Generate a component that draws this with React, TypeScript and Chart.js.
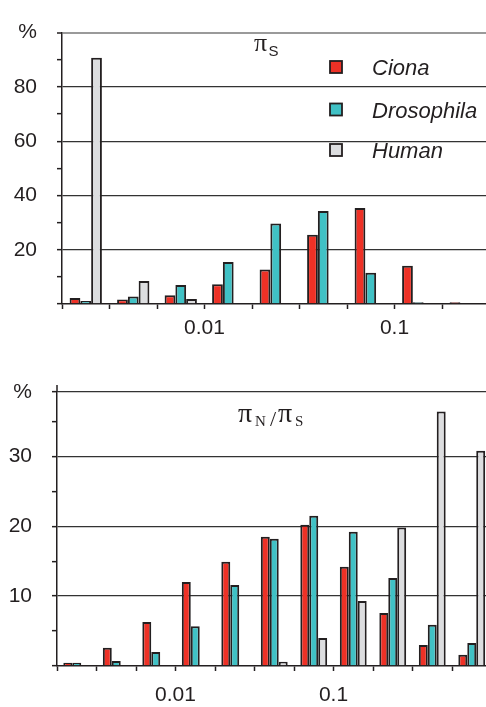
import React, { useEffect, useRef } from "react";
import { Chart, registerables } from "chart.js";

Chart.register(...registerables);

// ---------- shared ----------
const seriesNames = ["Ciona", "Drosophila", "Human"];
const seriesColors = ["#ee3126", "#40c1c5", "#dcdddf"];
const INK = "#231f20";
const SANS = "'Liberation Sans', Arial, Helvetica, sans-serif";
const SERIF = "'Liberation Serif', 'Times New Roman', serif";

// ---------- top panel: piS ----------
const piSBins = ["b1", "b2", "b3", "b4", "b5", "b6", "b7", "b8", "b9"];
const piSEdgeLabels = ["", "", "", "0.01", "", "", "", "0.1", ""];
const piSCiona = [2.2, 1.7, 3.2, 7.3, 12.7, 25.5, 35.4, 14.1, 0.6];
const piSDrosophila = [1.1, 2.8, 7.0, 15.5, 29.7, 34.3, 11.5, 0.6, null];
const piSHuman = [90.7, 8.5, 1.8, null, null, null, null, null, null];
const piSYMax = 100;
const piSYTicks = [0, 10, 20, 30, 40, 50, 60, 70, 80, 90, 100];
const piSYLabels = ["", "", "20", "", "40", "", "60", "", "80", "", "%"];
const piSGridDark = [20, 40, 60, 80];
const piSGridLight = [100];

// ---------- bottom panel: piN/piS ----------
const ratioBins = ["c1", "c2", "c3", "c4", "c5", "c6", "c7", "c8", "c9", "c10", "c11"];
const ratioEdgeLabels = ["", "", "", "0.01", "", "", "", "0.1", "", "", ""];
const ratioCiona = [0.45, 2.6, 6.3, 12.0, 14.9, 18.5, 20.2, 14.2, 7.6, 3.0, 1.6];
const ratioDrosophila = [0.45, 0.7, 2.0, 5.7, 11.6, 18.2, 21.5, 19.2, 12.6, 5.9, 3.3];
const ratioHuman = [null, null, null, null, null, 0.6, 4.0, 9.3, 19.8, 36.4, 30.8];
const ratioYMax = 39.2;
const ratioYTicks = [0, 5, 10, 15, 20, 25, 30, 35, 39.2];
const ratioYLabels = ["", "", "10", "", "20", "", "30", "", "%"];
const ratioGridDark = [10, 20, 30, 39.2];
const ratioGridLight: number[] = [];

type Area = { left: number; top: number; bottom: number; binWidth: number };

type PanelProps = {
  top: number;
  height: number;
  area: Area;
  bins: string[];
  edgeLabels: string[];
  values: (number | null)[][];
  yMax: number;
  yTicks: number[];
  yLabels: string[];
  gridDark: number[];
  gridLight: number[];
  xLabelPadding: number;
  axisExtendTop: number;
  extras: (ctx: CanvasRenderingContext2D) => void;
};

const CANVAS_W = 500;

function Panel(p: PanelProps) {
  const ref = useRef<HTMLCanvasElement>(null);
  useEffect(() => {
    const canvas = ref.current!;
    const areaRight = p.area.left + p.bins.length * p.area.binWidth;
    const chart = new Chart(canvas, {
      type: "bar",
      data: {
        labels: p.bins,
        datasets: seriesNames.map((name, i) => ({
          label: name,
          data: p.values[i],
          backgroundColor: seriesColors[i],
          borderColor: INK,
          borderWidth: 2,
          borderSkipped: "start",
          categoryPercentage: 0.68,
          barPercentage: 1,
        })),
      },
      options: {
        responsive: false,
        animation: false,
        layout: {
          padding: { top: p.area.top, right: CANVAS_W - areaRight, left: 0, bottom: 0 },
        },
        plugins: {
          legend: { display: false },
          tooltip: { enabled: false },
          title: { display: false },
        },
        scales: {
          x: {
            offset: true,
            grid: {
              display: true,
              offset: true,
              drawOnChartArea: false,
              drawTicks: true,
              tickLength: 5,
              tickColor: INK,
              tickWidth: 1.5,
            },
            border: { display: true, color: INK, width: 1.5 },
            ticks: {
              autoSkip: false,
              maxRotation: 0,
              minRotation: 0,
              labelOffset: -p.area.binWidth / 2,
              padding: p.xLabelPadding,
              color: INK,
              font: { family: SANS, size: 21 },
              callback: (_v: any, i: number) => p.edgeLabels[i],
            },
            afterFit: (s: any) => {
              s.height = p.height - p.area.bottom;
            },
          },
          y: {
            min: 0,
            max: p.yMax,
            afterBuildTicks: (s: any) => {
              s.ticks = p.yTicks.map((v) => ({ value: v }));
            },
            ticks: {
              autoSkip: false,
              padding: 20,
              color: INK,
              font: { family: SANS, size: 21 },
              callback: (_v: any, i: number) => p.yLabels[i],
            },
            grid: {
              drawTicks: true,
              tickLength: 5,
              tickColor: INK,
              tickWidth: 1.5,
              color: (c: any) => {
                const v = c.tick ? c.tick.value : 0;
                if (p.gridLight.includes(v)) return "#9a9a9a";
                if (p.gridDark.includes(v)) return "#333333";
                return "rgba(0,0,0,0)";
              },
              lineWidth: (c: any) => {
                const v = c.tick ? c.tick.value : 0;
                if (p.gridLight.includes(v)) return 2;
                return 1.3;
              },
            },
            border: { display: true, color: INK, width: 1.5 },
            afterFit: (s: any) => {
              s.width = p.area.left;
            },
          },
        },
      },
      plugins: [
        {
          id: "extras",
          afterDraw: (c: any) => {
            const ctx: CanvasRenderingContext2D = c.ctx;
            ctx.save();
            if (p.axisExtendTop > 0) {
              ctx.strokeStyle = INK;
              ctx.lineWidth = 1.5;
              ctx.beginPath();
              ctx.moveTo(c.chartArea.left, c.chartArea.top - p.axisExtendTop);
              ctx.lineTo(c.chartArea.left, c.chartArea.top);
              ctx.stroke();
            }
            p.extras(ctx);
            ctx.restore();
          },
        },
      ],
    } as any);
    return () => chart.destroy();
  }, []);
  return (
    <canvas
      ref={ref}
      width={CANVAS_W}
      height={p.height}
      style={{ position: "absolute", left: 0, top: p.top, display: "block" }}
    />
  );
}

function drawTopExtras(ctx: CanvasRenderingContext2D) {
  // pi_S label
  ctx.fillStyle = INK;
  ctx.textBaseline = "alphabetic";
  ctx.textAlign = "left";
  ctx.font = `26px ${SERIF}`;
  ctx.fillText("π", 254, 50.5);
  ctx.font = `15px ${SANS}`;
  ctx.fillText("S", 268.5, 55.5);
  // legend
  const rowY = [67, 109.5, 150];
  seriesNames.forEach((name, i) => {
    ctx.fillStyle = seriesColors[i];
    ctx.fillRect(330, rowY[i] - 6, 12, 12);
    ctx.strokeStyle = INK;
    ctx.lineWidth = 1.8;
    ctx.strokeRect(330, rowY[i] - 6, 12, 12);
    ctx.fillStyle = INK;
    ctx.font = `italic 22px ${SANS}`;
    ctx.fillText(name, 372, rowY[i] + 8);
  });
}

function drawBottomExtras(ctx: CanvasRenderingContext2D) {
  ctx.fillStyle = INK;
  ctx.textBaseline = "alphabetic";
  ctx.textAlign = "left";
  ctx.font = `28px ${SERIF}`;
  ctx.fillText("π", 238, 77);
  ctx.font = `15px ${SERIF}`;
  ctx.fillText("N", 255, 81);
  ctx.font = `22px ${SERIF}`;
  ctx.fillText("/", 270, 81);
  ctx.font = `28px ${SERIF}`;
  ctx.fillText("π", 278, 77);
  ctx.font = `15px ${SERIF}`;
  ctx.fillText("S", 295, 81);
}

export default function App() {
  return (
    <div
      style={{
        position: "fixed",
        left: 0,
        top: 0,
        width: 486,
        height: 707,
        overflow: "hidden",
        background: "#fff",
      }}
    >
      <Panel
        top={0}
        height={345}
        area={{ left: 62, top: 22, bottom: 304, binWidth: 47.5 }}
        bins={piSBins}
        edgeLabels={piSEdgeLabels}
        values={[piSCiona, piSDrosophila, piSHuman]}
        yMax={piSYMax}
        yTicks={piSYTicks}
        yLabels={piSYLabels}
        gridDark={piSGridDark}
        gridLight={piSGridLight}
        xLabelPadding={7}
        axisExtendTop={0}
        extras={drawTopExtras}
      />
      <Panel
        top={345}
        height={362}
        area={{ left: 57, top: 47, bottom: 321, binWidth: 39.5 }}
        bins={ratioBins}
        edgeLabels={ratioEdgeLabels}
        values={[ratioCiona, ratioDrosophila, ratioHuman]}
        yMax={ratioYMax}
        yTicks={ratioYTicks}
        yLabels={ratioYLabels}
        gridDark={ratioGridDark}
        gridLight={ratioGridLight}
        xLabelPadding={12}
        axisExtendTop={7}
        extras={drawBottomExtras}
      />
    </div>
  );
}
